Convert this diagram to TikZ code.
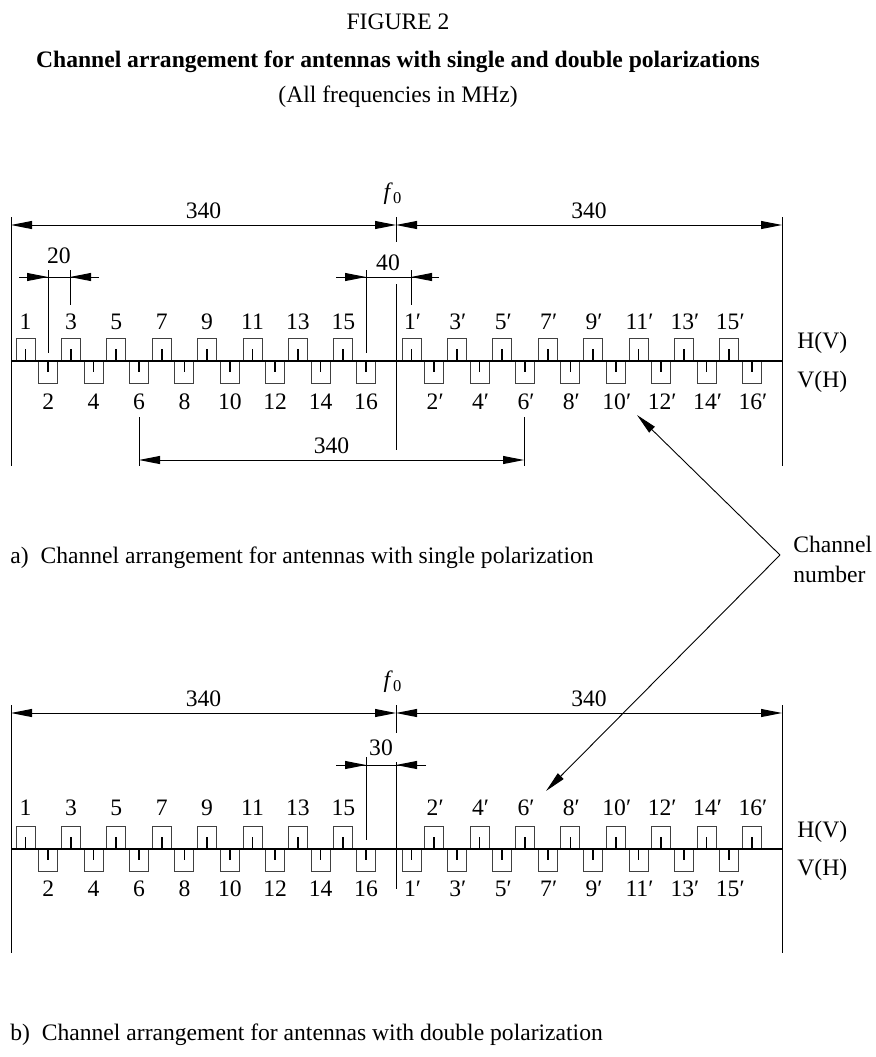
\documentclass[tikz,border=0pt]{standalone}
\usepackage{fontspec}
\setmainfont{Liberation Serif}
\usepackage{tikz}
\usetikzlibrary{arrows.meta,positioning}

\begin{document}
\begin{tikzpicture}[x=0.5pt, y=-0.5pt,
  >={Triangle[length=10.5pt,width=4pt]},
  every node/.style={font=\fontsize{11.8}{15}\selectfont, inner sep=0pt},
  frame/.style={line width=0.5pt},
  dim/.style={<->, line width=0.45pt},
  dimin/.style={->, line width=0.45pt},
  ext/.style={line width=0.45pt},
  axis/.style={line width=1pt},
  chbox/.style={line width=0.5pt, black!75},
  chtick/.style={line width=0.85pt},
  pointer/.style={->, line width=0.45pt},
  upch/.pic={\draw[chbox] (-9.5,0) rectangle (9.5,-23); \draw[chtick] (0,0) -- (0,-12);},
  downch/.pic={\draw[chbox] (-9.5,0) rectangle (9.5,22); \draw[chtick] (0,0) -- (0,11);},
]
  \useasboundingbox (0,0) rectangle (875,1057);

  % Titles
  \node (fig) at (398,22) {FIGURE 2};
  \node[font=\fontsize{11.8}{15}\selectfont\bfseries] (title) at (398,62) {Channel arrangement for antennas with single and double polarizations};
  \node (unit) at (398,97) {(All frequencies in MHz)};

  % ---------- a) single polarization ----------
  \coordinate (aL) at (11,361);
  \coordinate (aR) at (782,361);
  \coordinate (aF) at (396,225);
  \draw[frame] (11,217) -- (11,466);
  \draw[frame] (782,217) -- (782,466);
  \draw[dim] (11,225) -- node[above=3pt] (a340l) {340} (aF);
  \draw[dim] (aF) -- node[above=3pt] (a340r) {340} (782,225);
  \draw[ext] (396,217) -- (396,242);
  \node (af0) at (393,194) {\textit{f}\textsubscript{0}};
  \draw[ext] (396,284) -- (396,450);

  % 20 and 40
  \draw[ext] (48,270) -- (48,353);
  \draw[ext] (70,270) -- (70,305);
  \draw[ext] (19,277) -- (99,277);
  \draw[dimin] (19,277) -- (48,277);
  \draw[dimin] (99,277) -- (70,277);
  \node (a20) at (59,256) {20};
  \draw[ext] (366,270) -- (366,353);
  \draw[ext] (411,270) -- (411,305);
  \draw[ext] (336,277) -- (439,277);
  \draw[dimin] (336,277) -- (366,277);
  \draw[dimin] (439,277) -- (411,277);
  \node (a40) at (388,263) {40};

  % channels
  \foreach \n in {1,3,...,15}{
    \pic at ({25.5+(\n-1)*22.7},361) {upch};
    \node (ta\n) at ({25.5+(\n-1)*22.7},322) {\n};
    \pic at ({411.5+(\n-1)*22.7},361) {upch};
    \node (tp\n) at ({412.5+(\n-1)*22.7},322) {\n′};
  }
  \foreach \n in {2,4,...,16}{
    \pic at ({25.5+(\n-1)*22.7},361) {downch};
    \node (ta\n) at ({25.5+(\n-1)*22.7},402) {\n};
    \pic at ({411.5+(\n-1)*22.7},361) {downch};
    \node (tp\n) at ({412.5+(\n-1)*22.7},402) {\n′};
  }
  \draw[axis] (aL) -- (aR);
  \node[anchor=west] (ahv) at (797,343) {H(V)};
  \node[anchor=west] (avh) at (797,382) {V(H)};

  % 340 between 6 and 6'
  \draw[ext] (139,417) -- (139,466);
  \draw[ext] (524,417) -- (524,466);
  \draw[dim] (139,460) -- node[above=3pt] (a340m) {340} (524,460);

  \node[anchor=west] (acap) at (10,558) {a)\enspace Channel arrangement for antennas with single polarization};

  % Channel number pointers
  \node[anchor=west, align=left] (chnum) at (793,559) {Channel\\number};
  \coordinate (vtx) at (780,555);
  \coordinate (tipa) at (637,415);
  \coordinate (tipb) at (546,791);
  \draw[pointer] (vtx) -- (tipa);
  \draw[pointer] (vtx) -- (tipb);

  % ---------- b) double polarization ----------
  \coordinate (bL) at (11,849);
  \coordinate (bR) at (782,849);
  \coordinate (bF) at (396,713);
  \draw[frame] (11,705) -- (11,953);
  \draw[frame] (782,705) -- (782,953);
  \draw[dim] (11,713) -- node[above=3pt] (b340l) {340} (bF);
  \draw[dim] (bF) -- node[above=3pt] (b340r) {340} (782,713);
  \draw[ext] (396,705) -- (396,733);
  \node (bf0) at (393,682) {\textit{f}\textsubscript{0}};

  % 30
  \draw[ext] (366,757) -- (366,840);
  \draw[ext] (396,762) -- (396,889);
  \draw[ext] (336,765) -- (426,765);
  \draw[dimin] (336,765) -- (366,765);
  \draw[dimin] (426,765) -- (396,765);
  \node (b30) at (381,748) {30};

  % channels
  \foreach \n in {1,3,...,15}{
    \pic at ({25.5+(\n-1)*22.7},849) {upch};
    \node (ba\n) at ({25.5+(\n-1)*22.7},808) {\n};
    \pic at ({411.5+(\n-1)*22.7},849) {downch};
    \node (bp\n) at ({412.5+(\n-1)*22.7},889) {\n′};
  }
  \foreach \n in {2,4,...,16}{
    \pic at ({25.5+(\n-1)*22.7},849) {downch};
    \node (ba\n) at ({25.5+(\n-1)*22.7},889) {\n};
    \pic at ({411.5+(\n-1)*22.7},849) {upch};
    \node (bp\n) at ({412.5+(\n-1)*22.7},808) {\n′};
  }
  \draw[axis] (bL) -- (bR);
  \node[anchor=west] (bhv) at (797,832) {H(V)};
  \node[anchor=west] (bvh) at (797,870) {V(H)};

  \node[anchor=west] (bcap) at (10,1035) {b)\enspace Channel arrangement for antennas with double polarization};

\end{tikzpicture}
\end{document}
